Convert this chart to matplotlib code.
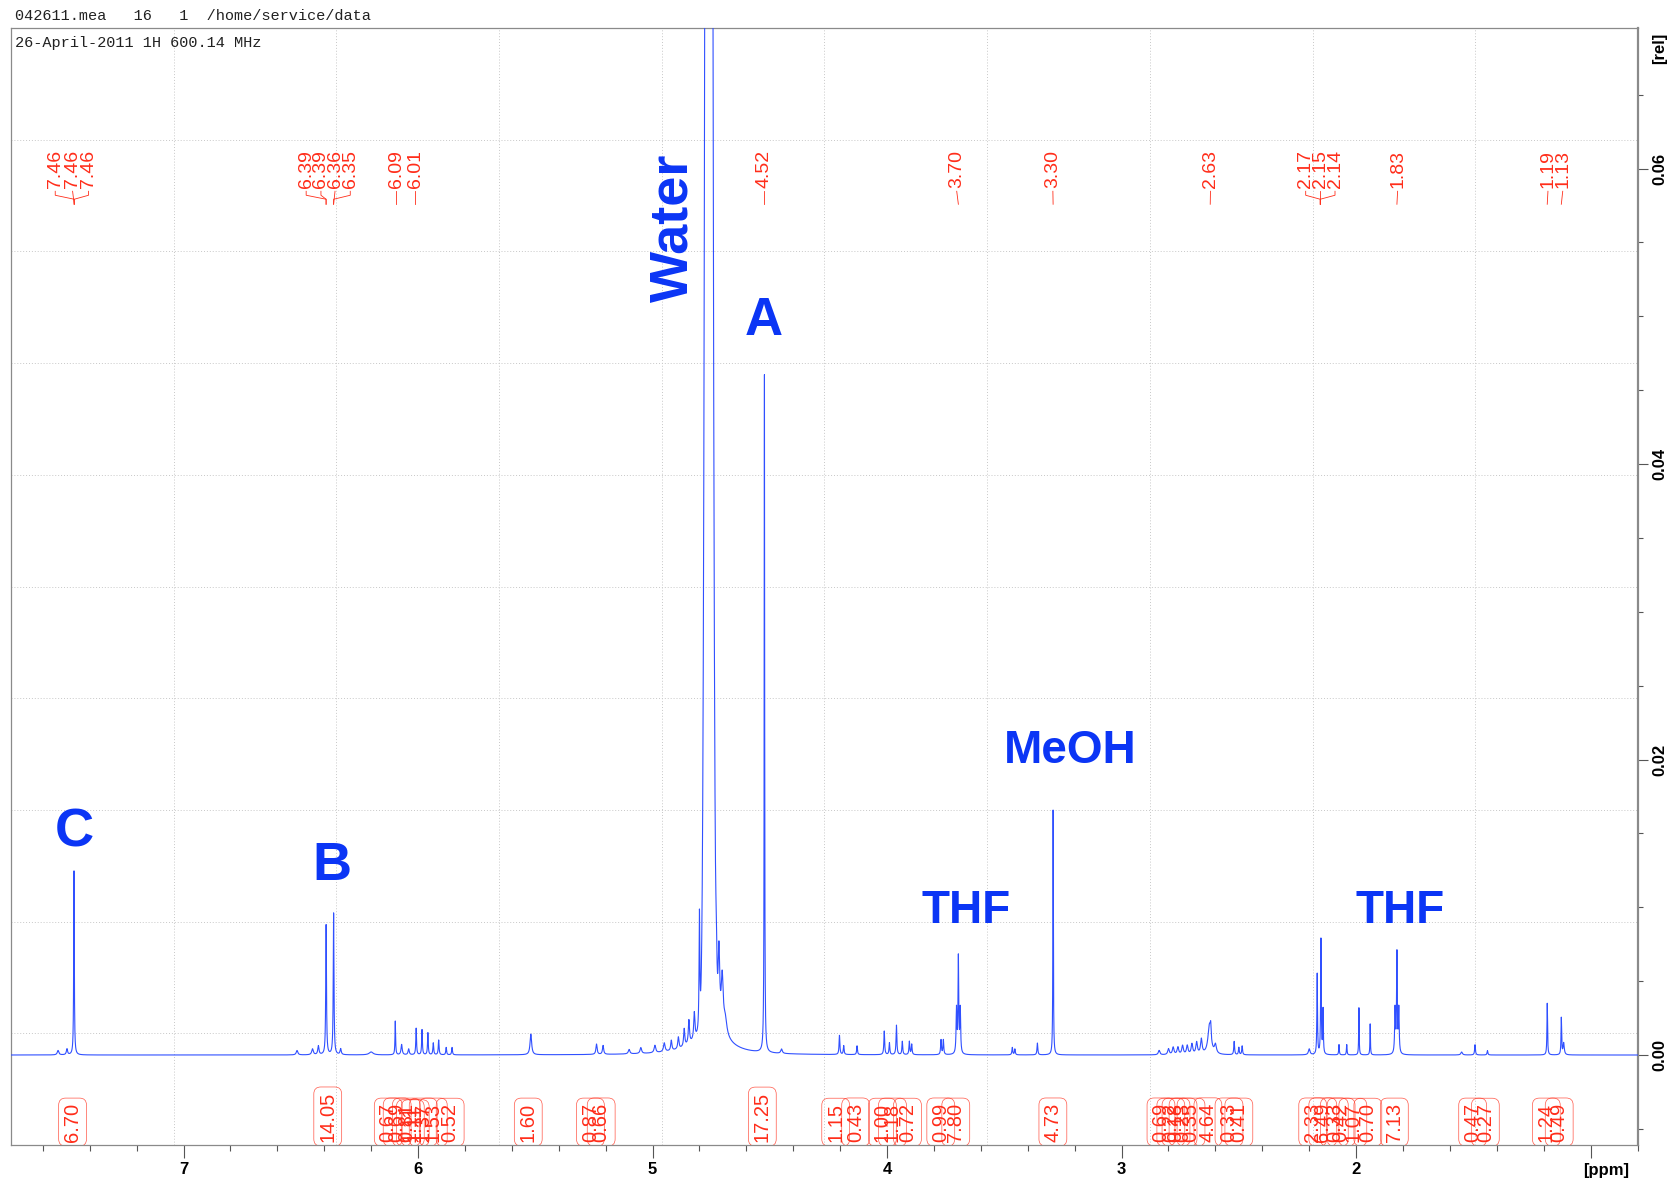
import numpy as np
import matplotlib.pyplot as plt
from matplotlib.ticker import MultipleLocator, FuncFormatter, FormatStrFormatter

# 1H spectrum: peak position (ppm), height (rel), half width (ppm)
peak_ppm = [7.535, 7.497, 7.467,
            6.516, 6.450, 6.425, 6.392, 6.360, 6.330, 6.200,
            6.097, 6.070, 6.040, 6.008, 5.983, 5.958, 5.935, 5.912, 5.880, 5.855,
            5.519, 5.239, 5.211,
            5.100, 5.050, 4.990, 4.950, 4.920, 4.890, 4.865, 4.845, 4.822,
            4.800, 4.750, 4.728, 4.717, 4.703, 4.690,
            4.523, 4.450,
            4.203, 4.185, 4.128, 4.012, 3.990, 3.960, 3.935, 3.905, 3.895, 3.770, 3.760,
            3.704, 3.696, 3.688,
            3.466, 3.455, 3.359, 3.292,
            2.840, 2.800, 2.780, 2.760, 2.740, 2.720, 2.700, 2.680, 2.660,
            2.625, 2.620, 2.600, 2.520, 2.500, 2.486,
            2.200, 2.166, 2.150, 2.141, 2.073, 2.040, 1.988, 1.940,
            1.834, 1.826, 1.818,
            1.550, 1.493, 1.440,
            1.185, 1.125, 1.115]
peak_height = [0.0003, 0.0004, 0.0125,
               0.0003, 0.0004, 0.0006, 0.0088, 0.0096, 0.0004, 0.0002,
               0.0023, 0.0007, 0.0004, 0.0018, 0.0017, 0.0015, 0.0008, 0.0010, 0.0005, 0.0005,
               0.0014, 0.0007, 0.0006,
               0.0003, 0.0004, 0.0005, 0.0006, 0.0007, 0.0008, 0.0012, 0.0016, 0.0018,
               0.0080, 0.0025, 0.0030, 0.0050, 0.0035, 0.0010,
               0.0463, 0.0003,
               0.0013, 0.0006, 0.0006, 0.0016, 0.0008, 0.0020, 0.0009, 0.0009, 0.0007, 0.0010, 0.0010,
               0.0030, 0.0065, 0.0030,
               0.0005, 0.0004, 0.0008, 0.0167,
               0.0003, 0.0004, 0.0005, 0.0005, 0.0006, 0.0006, 0.0007, 0.0008, 0.0010,
               0.0020, 0.0008, 0.0006, 0.0009, 0.0005, 0.0006,
               0.0004, 0.0055, 0.0078, 0.0030, 0.0007, 0.0007, 0.0032, 0.0021,
               0.0030, 0.0068, 0.0030,
               0.0002, 0.0007, 0.0003,
               0.0035, 0.0025, 0.0008]
peak_width = [0.004, 0.003, 0.0015,
              0.004, 0.004, 0.003, 0.0018, 0.0018, 0.003, 0.010,
              0.0015, 0.003, 0.003, 0.0018, 0.0018, 0.0018, 0.002, 0.002, 0.002, 0.002,
              0.004, 0.003, 0.003,
              0.004, 0.004, 0.004, 0.004, 0.003, 0.003, 0.003, 0.003, 0.003,
              0.002, 0.060, 0.003, 0.004, 0.005, 0.008,
              0.0012, 0.004,
              0.002, 0.002, 0.002, 0.002, 0.002, 0.002, 0.002, 0.002, 0.002, 0.002, 0.002,
              0.002, 0.0018, 0.002,
              0.002, 0.002, 0.002, 0.0012,
              0.004, 0.004, 0.004, 0.004, 0.004, 0.004, 0.004, 0.004, 0.004,
              0.008, 0.002, 0.005, 0.002, 0.002, 0.002,
              0.004, 0.0015, 0.0015, 0.0015, 0.0015, 0.0015, 0.0012, 0.0012,
              0.002, 0.0018, 0.002,
              0.004, 0.002, 0.002,
              0.0015, 0.0015, 0.003]

# water signal, goes far off scale
water_ppm = 4.760
water_height = 0.25
water_sigma = 0.011

# peak picking labels at the top and the shift each one points to
pick_labels = ['7.46', '7.46', '7.46', '6.39', '6.39', '6.36', '6.35', '6.09', '6.01',
               '4.52', '3.70', '3.30', '2.63', '2.17', '2.15', '2.14', '1.83', '1.19', '1.13']
pick_targets = [7.466, 7.466, 7.466, 6.392, 6.392, 6.360, 6.360, 6.093, 6.011,
                4.523, 3.696, 3.292, 2.622, 2.153, 2.153, 2.153, 1.826, 1.185, 1.125]

# integrals at the bottom
integral_labels = ['6.70', '14.05', '0.67', '0.69', '0.81', '1.11', '1.11', '1.37', '1.53', '0.52',
                   '1.60', '0.87', '0.66', '17.25', '1.15', '0.43', '1.00', '1.18', '0.72',
                   '0.99', '7.80', '4.73', '0.69', '0.22', '0.18', '0.23', '0.35', '4.64',
                   '0.33', '0.41', '2.33', '6.49', '0.33', '0.42', '1.07', '0.70', '7.13',
                   '0.47', '0.27', '1.24', '0.49']
integral_ppm = [7.473, 6.385, 6.127, 6.089, 6.050, 6.033, 6.012, 5.978, 5.935, 5.863,
                5.530, 5.265, 5.219, 4.532, 4.219, 4.134, 4.020, 3.977, 3.913,
                3.771, 3.707, 3.293, 2.832, 2.790, 2.768, 2.738, 2.704, 2.632,
                2.542, 2.500, 2.185, 2.142, 2.093, 2.064, 2.014, 1.950, 1.837,
                1.503, 1.449, 1.189, 1.134]

# compound assignments
assign_names = ['C', 'B', 'A', 'THF', 'MeOH', 'THF']
assign_ppm = [7.464, 6.367, 4.527, 3.662, 3.221, 1.812]

RED = '#ff2d1a'
BLUE = '#0b35f5'
LINE = '#3050ff'
SANS = 'Liberation Sans'


def build_spectrum(ppm):
    y = water_height * np.exp(-(ppm - water_ppm) ** 2 / (2 * water_sigma ** 2))
    for c, h, g in zip(peak_ppm, peak_height, peak_width):
        y += h * g ** 2 / (g ** 2 + (ppm - c) ** 2)
    return y


fig = plt.figure(figsize=(16.73, 11.84), dpi=100)
ax = fig.add_axes([0.00652, 0.03294, 0.97256, 0.94341])

ppm = np.linspace(7.74, 0.79, 24000)
ax.plot(ppm, build_spectrum(ppm), color=LINE, lw=0.8, zorder=3)

ax.set_xlim(7.736, 0.798)
ax.set_ylim(-0.00609, 0.06951)

# dotted grid, 10 x 10 over the frame
for k in range(1, 10):
    ax.plot([k / 10, k / 10], [0, 1], transform=ax.transAxes, color='#c8c8c8',
            ls=(0, (1, 2)), lw=0.7, zorder=1)
    ax.plot([0, 1], [k / 10, k / 10], transform=ax.transAxes, color='#c8c8c8',
            ls=(0, (1, 2)), lw=0.7, zorder=1)

# axes and ticks
for side in ['top', 'left', 'bottom']:
    ax.spines[side].set_color('#8a8a8a')
    ax.spines[side].set_linewidth(0.9)
ax.spines['right'].set_color('#8a8a8a')
ax.spines['right'].set_linewidth(1.6)

ax.xaxis.set_major_locator(MultipleLocator(1))
ax.xaxis.set_minor_locator(MultipleLocator(0.2))
ax.xaxis.set_major_formatter(FuncFormatter(lambda v, p: '' if round(v) == 1 else '%d' % round(v)))
ax.yaxis.tick_right()
ax.yaxis.set_major_locator(MultipleLocator(0.02))
ax.yaxis.set_minor_locator(MultipleLocator(0.005))
ax.yaxis.set_major_formatter(FormatStrFormatter('%.2f'))
ax.tick_params(axis='x', which='major', direction='out', length=9, width=0.8, color='#555555', pad=3)
ax.tick_params(axis='x', which='minor', direction='out', length=4.5, width=0.8, color='#555555')
ax.tick_params(axis='y', which='major', direction='out', length=7, width=0.8, color='#555555',
               pad=3, labelrotation=90)
ax.tick_params(axis='y', which='minor', direction='out', length=3.5, width=0.8, color='#555555')
for lab in ax.get_xticklabels() + ax.get_yticklabels():
    lab.set_fontfamily(SANS)
    lab.set_fontweight('bold')
    lab.set_fontsize(12)
for lab in ax.get_yticklabels():
    lab.set_va('center')

fig.text(1606 / 1673, 1 - 1170 / 1184, '[ppm]', ha='center', va='center',
         fontsize=12, fontweight='bold', family=SANS)
fig.text(1660 / 1673, 1 - 48 / 1184, '[rel]', ha='center', va='center', rotation=90,
         fontsize=12, fontweight='bold', family=SANS)

# header lines
fig.text(15 / 1673, 1 - 16 / 1184, '042611.mea   16   1  /home/service/data', ha='left', va='center',
         fontsize=11, family='Liberation Mono', color='#222222')
fig.text(15 / 1673, 1 - 43 / 1184, '26-April-2011 1H 600.14 MHz', ha='left', va='center',
         fontsize=11, family='Liberation Mono', color='#222222')

# peak picking labels with their leader lines
pick_label_x = [7.547, 7.473, 7.405, 6.477, 6.414, 6.354, 6.289, 6.093, 6.011,
                4.523, 3.703, 3.293, 2.621, 2.215, 2.153, 2.090, 1.823, 1.182, 1.119]
y_text, y_a, y_b, y_c, y_d = 0.05868, 0.05846, 0.05819, 0.05792, 0.05758
for lab, lx, tx in zip(pick_labels, pick_label_x, pick_targets):
    ax.text(lx, y_text, lab, rotation=90, ha='center', va='bottom', color=RED,
            fontsize=14, family=SANS, zorder=4)
    if abs(lx - tx) < 0.012:
        ax.plot([lx, tx], [y_a, y_d], color=RED, lw=0.6, zorder=4)
    else:
        ax.plot([lx, lx, tx, tx], [y_a, y_b, y_c, y_d], color=RED, lw=0.6, zorder=4)

# integral values, boxes open at the bottom
for lab, x in zip(integral_labels, integral_ppm):
    ax.text(x, 0.003, lab, transform=ax.get_xaxis_transform(), rotation=90,
            ha='center', va='bottom', color=RED, fontsize=14.5, family=SANS, clip_on=True,
            zorder=4, bbox=dict(boxstyle='round,pad=0.22,rounding_size=0.35', fc='none',
                                ec=RED, lw=0.5, alpha=0.8))

# compound names
assign_base = [0.0141, 0.01184, 0.04871, 0.00893, 0.01976, 0.00893]
assign_size = [39, 39, 38, 33, 33, 33]
for name, x, yb, fs in zip(assign_names, assign_ppm, assign_base, assign_size):
    ax.text(x, yb, name, ha='center', va='baseline', color=BLUE, fontsize=fs,
            fontweight='bold', family=SANS, zorder=5)
ax.text(4.852, 0.05602, 'Water', rotation=90, rotation_mode='anchor', ha='center',
        va='baseline', color=BLUE, fontsize=39, fontweight='bold', family=SANS, zorder=5)

fig.savefig('out.png', dpi=100)
